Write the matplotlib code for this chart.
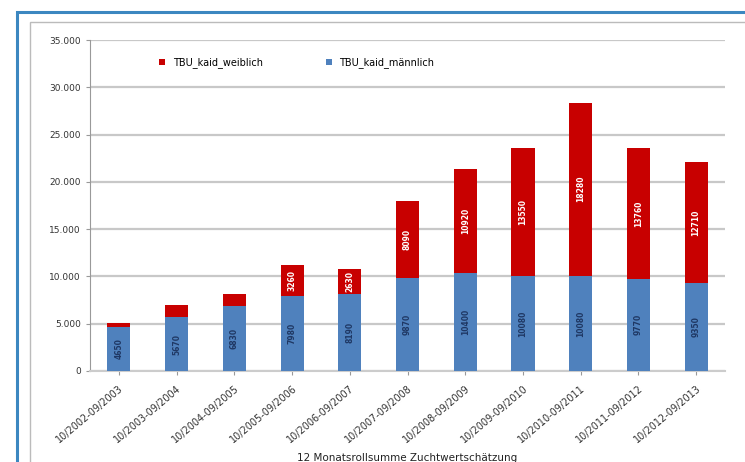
import matplotlib.pyplot as plt
import numpy as np
from matplotlib.patches import Rectangle

# Zeiträume (12-Monats-Summen)
periods = ['10/2002-09/2003', '10/2003-09/2004', '10/2004-09/2005',
           '10/2005-09/2006', '10/2006-09/2007', '10/2007-09/2008',
           '10/2008-09/2009', '10/2009-09/2010', '10/2010-09/2011',
           '10/2011-09/2012', '10/2012-09/2013']

# Werte, aus dem Bild geschätzt
maennlich = [4650, 5670, 6830, 7980, 8190, 9870, 10400, 10080, 10080, 9770, 9350]
weiblich = [450, 1260, 1360, 3260, 2630, 8090, 10920, 13550, 18280, 13760, 12710]

y_ticks = [0, 5000, 10000, 15000, 20000, 25000, 30000, 35000]
y_tick_labels = ['0', '5.000', '10.000', '15.000', '20.000', '25.000', '30.000', '35.000']

blue = '#4F81BD'
red = '#C80000'

fig = plt.figure(figsize=(7.45, 4.62), dpi=100)

# Rahmen um das Diagramm (läuft rechts und unten über den Bildrand)
fig.patches.append(Rectangle((17 / 745, -20 / 462), 760 / 745, 470 / 462,
                             transform=fig.transFigure, fill=False,
                             edgecolor='#3C87C0', linewidth=2.2))
fig.patches.append(Rectangle((30 / 745, -20 / 462), 750 / 745, 460 / 462,
                             transform=fig.transFigure, fill=False,
                             edgecolor='#BBBBBB', linewidth=1.0))

ax = fig.add_axes([90 / 745, 91 / 462, 635 / 745, 331 / 462])

x = np.arange(len(periods))
width = 0.4
ax.bar(x, maennlich, width, color=blue, label='TBU_kaid_männlich', zorder=3)
ax.bar(x, weiblich, width, bottom=maennlich, color=red,
       label='TBU_kaid_weiblich', zorder=3)

# Werte in den Balken
for i in range(len(periods)):
    ax.text(x[i], maennlich[i] / 2, str(maennlich[i]), rotation=90,
            ha='center', va='center', fontsize=5.5, color='#1F3864',
            fontweight='bold', zorder=4)
    if weiblich[i] > 2000:
        ax.text(x[i], maennlich[i] + weiblich[i] / 2, str(weiblich[i]),
                rotation=90, ha='center', va='center', fontsize=5.5,
                color='white', fontweight='bold', zorder=4)

ax.set_xlim(-0.5, len(periods) - 0.5)
ax.set_ylim(0, 35000)
ax.set_yticks(y_ticks)
ax.set_yticklabels(y_tick_labels, fontsize=6.5, color='#333333')
ax.set_xticks(x)
ax.set_xticklabels(periods, rotation=40, ha='right', fontsize=7,
                   color='#333333', rotation_mode='anchor')
ax.tick_params(axis='both', length=3, color='#999999')
ax.tick_params(axis='x', pad=6)
ax.yaxis.grid(True, color='#C8C8C8', linewidth=1.6, zorder=0)
for side in ['top', 'right']:
    ax.spines[side].set_visible(False)
ax.spines['left'].set_color('#999999')
ax.spines['bottom'].set_color('#CCCCCC')
ax.spines['bottom'].set_linewidth(1.5)

ax.set_xlabel('12 Monatsrollsumme Zuchtwertschätzung', fontsize=7.5,
              color='#222222', labelpad=6)

handles, labels = ax.get_legend_handles_labels()
ax.legend(handles[::-1], labels[::-1], loc='upper left',
          bbox_to_anchor=(0.095, 0.975), ncol=2, frameon=False, fontsize=7,
          handlelength=0.6, handleheight=0.6, columnspacing=6.5)

fig.savefig('out.png', dpi=100)
